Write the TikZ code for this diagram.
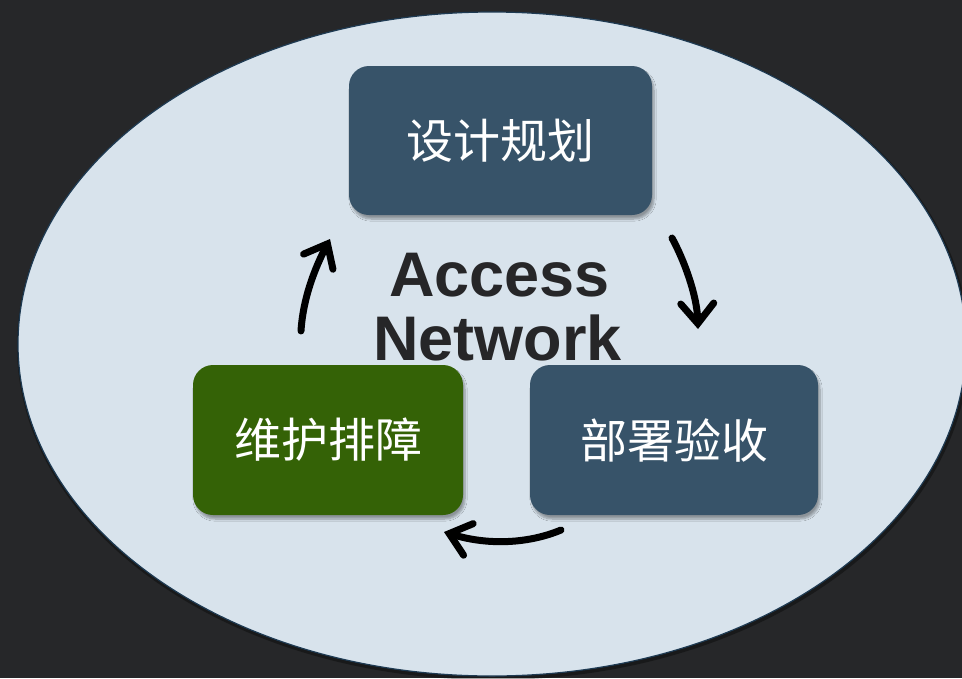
\documentclass[tikz,border=0pt]{standalone}
\usepackage{fontspec}
\setmainfont{Liberation Sans}
\newfontfamily\cjk{Noto Sans CJK SC}
\usetikzlibrary{arrows.meta,shadows.blur}

\definecolor{pagebg}{HTML}{262729}
\definecolor{ovalfill}{HTML}{D8E3EC}
\definecolor{ovaledge}{HTML}{1E3A52}
\definecolor{stepblue}{HTML}{375369}
\definecolor{stepgreen}{HTML}{346206}
\definecolor{titleink}{HTML}{262628}

\tikzset{
  stagebox/.style={
    rounded corners=20pt, inner sep=0pt, text=white,
    font=\cjk\fontsize{47}{50}\selectfont,
    blur shadow={shadow xshift=2pt, shadow yshift=-4pt,
                 shadow blur steps=8, shadow opacity=35}},
  titleline/.style={anchor=base, text=titleink, inner sep=0pt,
    font=\fontsize{63}{64}\selectfont\bfseries},
  cycarrow/.style={line width=7pt, line cap=round, draw=black,
    -{Straight Barb[length=20pt, width=33pt, line cap=round]}}
}

\begin{document}
\begin{tikzpicture}[x=1pt, y=-1pt]
  % page background and fixed frame
  \fill[pagebg] (0,0) rectangle (962,678);
  \useasboundingbox (0,0) rectangle (962,678);

  % large oval backdrop, clipped to the frame
  \begin{scope}
    \clip (0,0) rectangle (962,678);
    \fill[black, opacity=0.35] (493,346) ellipse [x radius=476, y radius=334];
    \draw[fill=ovalfill, draw=ovaledge, line width=1.2pt]
      (492,344) ellipse [x radius=474, y radius=332];
  \end{scope}

  % the three stages
  \node[stagebox, fill=stepblue, minimum width=303pt, minimum height=149pt]
    (design) at (500.5,140.5) {设计规划};
  \node[stagebox, fill=stepblue, minimum width=288pt, minimum height=150pt]
    (deploy) at (674,440) {部署验收};
  \node[stagebox, fill=stepgreen, minimum width=270pt, minimum height=150pt]
    (maintain) at (328,440) {维护排障};

  % centre title
  \node[titleline] (title1) at (499.5,296) {Access};
  \node[titleline] (title2) at (497.5,360) {Network};

  % cycle arrows
  \coordinate (upS) at (301,331);
  \coordinate (upE) at (330,239);
  \coordinate (downS) at (672,238);
  \coordinate (downE) at (698,329);
  \coordinate (leftS) at (561,530);
  \coordinate (leftE) at (444,532);

  \draw[cycarrow] (upS) .. controls (303,298) and (315,268) .. (upE);
  \draw[cycarrow] (downS) .. controls (684,260) and (697,295) .. (downE);
  \draw[cycarrow] (leftS) .. controls (530,543) and (490,546) .. (leftE);
\end{tikzpicture}
\end{document}
